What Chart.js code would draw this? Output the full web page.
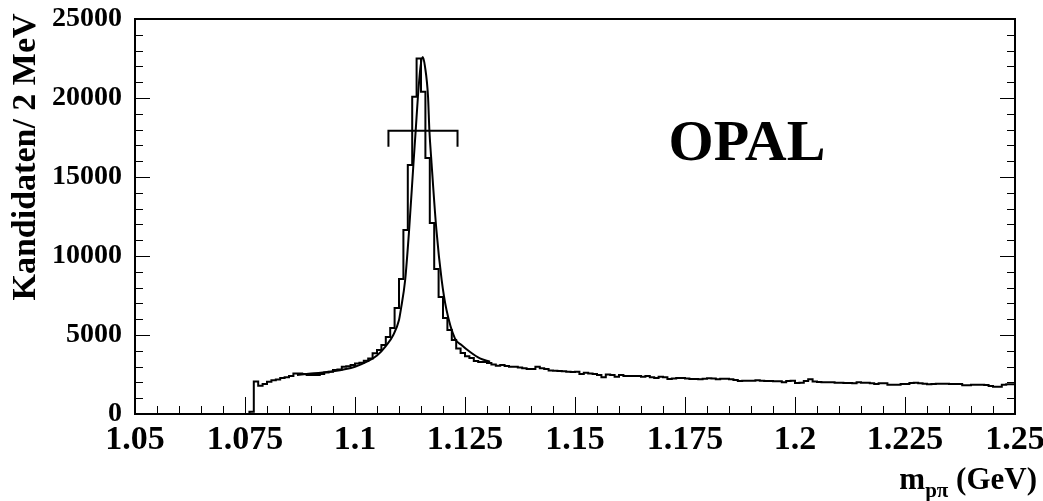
<!DOCTYPE html>
<html><head><meta charset="utf-8">
<style>html,body{margin:0;padding:0;background:#fff;} canvas{display:block;}</style>
<script src="https://cdn.jsdelivr.net/npm/chart.js@4.4.0/dist/chart.umd.min.js"></script>
</head><body>
<canvas id="c" width="1043" height="501"></canvas>
<script>
// Histogram: 1 MeV bins starting at 1.050 GeV
const binStart = 1.05;
const binWidth = 0.001;
const counts = [
  0,0,0,0,0,0,0,0,0,0, 0,0,0,0,0,0,0,0,0,0, 0,0,0,0,0,0,0,150,2050,1790,
  1900,2040,2130,2190,2280,2320,2400,2570,2570,2530, 2470,2470,2470,2530,2620,2680,2780,2820,2990,3020,
  3100,3200,3250,3370,3520,3840,4050,4370,4870,5440, 6710,8540,11650,15760,20080,22500,20400,16200,12090,9180,
  7400,6080,5320,4680,4150,3860,3650,3540,3350,3290, 3290,3230,3140,3060,3100,3040,2990,2990,2950,2890,
  2850,2850,2990,2890,2850,2760,2740,2720,2700,2680, 2660,2680,2530,2610,2570,2530,2470,2320,2500,2470,
  2360,2470,2400,2400,2400,2400,2360,2400,2320,2280, 2360,2320,2215,2250,2280,2280,2250,2215,2215,2200,
  2230,2260,2250,2195,2235,2235,2195,2150,2090,2110, 2110,2110,2130,2110,2090,2090,2070,2070,2005,2090,
  2110,1960,1980,2090,2195,2050,2030,2005,2005,2005, 1980,1980,1960,1960,1940,2005,1980,1980,1940,1900,
  1940,1940,1855,1855,1855,1900,1900,1960,1980,1940, 1920,1880,1900,1920,1920,1920,1900,1900,1900,1815,
  1815,1855,1855,1855,1835,1770,1730,1730,1855,1880
];
// Fit curve
const fitMass  = [1.0868,1.090,1.095,1.100,1.1027,1.105,1.107,1.1087,1.1100,1.1104,1.1114,1.1123,1.1133,1.1138,1.1143,1.1149,1.1154,1.1159,1.1166,1.1169,1.1174,1.1185,1.1197,1.1208,1.1227,1.1242,1.1261,1.1284,1.1307];
const fitValue = [2470,2560,2700,2990,3310,3700,4300,5000,5950,6580,8480,11650,15900,17970,20080,22000,22600,22000,20080,17970,15870,11650,8480,6580,4790,4370,3940,3520,3310];
// Mass window bracket
const windowMass  = [1.1076,1.1076,1.1233,1.1233];
const windowValue = [16920,17930,17930,16920];
// Ticks
const xTickValues = [1.05,1.075,1.1,1.125,1.15,1.175,1.2,1.225,1.25];
const xTickLabels = ['1.05','1.075','1.1','1.125','1.15','1.175','1.2','1.225','1.25'];
const yTickValues = [0,5000,10000,15000,20000,25000];
const yTickLabels = ['0','5000','10000','15000','20000','25000'];
const yTitle = 'Kandidaten/ 2 MeV';
const xTitleMain = 'm', xTitleSub = 'p\u03c0', xTitleUnit = ' (GeV)';
const plotLabel = 'OPAL';

const histPoints = counts.map((c,i)=>({x: binStart + i*binWidth, y: c}));
histPoints.push({x: binStart + counts.length*binWidth, y: counts[counts.length-1]});
const fitPoints = fitMass.map((m,i)=>({x:m, y:fitValue[i]}));
const winPoints = windowMass.map((m,i)=>({x:m, y:windowValue[i]}));

const SERIF = "'Liberation Serif','Times New Roman',serif";

const framePlugin = {
  id: 'frame',
  afterDatasetsDraw(chart) {
    const {ctx, chartArea:{left,right,top,bottom}, scales:{x,y}} = chart;
    ctx.save();
    ctx.strokeStyle = '#000';
    ctx.lineWidth = 1;
    ctx.beginPath();
    for (let i=0;i<=40;i++){
      const v = 1.05 + i*0.005;
      const px = Math.round(x.getPixelForValue(v))+0.5;
      const len = (i%5===0)?17:8;
      ctx.moveTo(px,bottom); ctx.lineTo(px,bottom-len);
    }
    for (let i=0;i<=25;i++){
      const v = i*1000;
      const py = Math.round(y.getPixelForValue(v))+0.5;
      const len = (i%5===0)?15:8;
      ctx.moveTo(left,py); ctx.lineTo(left+len,py);
      ctx.moveTo(right,py); ctx.lineTo(right-len,py);
    }
    ctx.stroke();
    ctx.lineWidth = 2;
    ctx.strokeRect(left,top,right-left,bottom-top);

    ctx.fillStyle = '#000';
    ctx.font = 'bold 58px ' + SERIF;
    ctx.textAlign = 'center';
    ctx.textBaseline = 'alphabetic';
    ctx.fillText(plotLabel, 747, 160);

    ctx.save();
    ctx.translate(35, 157);
    ctx.rotate(-Math.PI/2);
    ctx.font = 'bold 34px ' + SERIF;
    ctx.textAlign = 'center';
    ctx.fillText(yTitle, 0, 0);
    ctx.restore();

    ctx.textAlign = 'left';
    const fMain = 'bold 31px ' + SERIF, fSub = 'bold 21px ' + SERIF;
    ctx.font = fMain; const wm = ctx.measureText(xTitleMain).width; const wu = ctx.measureText(xTitleUnit).width;
    ctx.font = fSub; const ws = ctx.measureText(xTitleSub).width;
    let xs = 1037 - (wm+ws+wu);
    const base = 489;
    ctx.font = fMain; ctx.fillText(xTitleMain, xs, base); xs += wm;
    ctx.font = fSub; ctx.fillText(xTitleSub, xs, base+8); xs += ws;
    ctx.font = fMain; ctx.fillText(xTitleUnit, xs, base);
    ctx.restore();
  }
};

new Chart(document.getElementById('c'), {
  type: 'line',
  data: {
    datasets: [
      {data: histPoints, stepped: 'after', borderColor:'#000', borderWidth:2, pointRadius:0, fill:false},
      {data: fitPoints, borderColor:'#000', borderWidth:2, pointRadius:0, fill:false, cubicInterpolationMode:'monotone'},
      {data: winPoints, borderColor:'#000', borderWidth:2, pointRadius:0, fill:false, tension:0}
    ]
  },
  options: {
    responsive:false, animation:false, devicePixelRatio:1,
    layout:{padding:{top:19,right:28,left:0,bottom:0}},
    plugins:{legend:{display:false}, tooltip:{enabled:false}},
    scales:{
      x:{type:'linear', min:1.05, max:1.25,
         grid:{display:false, drawTicks:false}, border:{display:false},
         ticks:{font:{family:SERIF, weight:'bold', size:34}, color:'#000', padding:6, maxRotation:0, minRotation:0, autoSkip:false,
                callback:(v,i)=>xTickLabels[i]},
         afterBuildTicks: s=>{ s.ticks = xTickValues.map(v=>({value:v})); },
         afterFit: s=>{ s.height = 87; s.paddingLeft = 0; s.paddingRight = 0; }},
      y:{type:'linear', min:0, max:25000,
         grid:{display:false, drawTicks:false}, border:{display:false},
         ticks:{font:{family:SERIF, weight:'bold', size:28}, color:'#000', padding:13, autoSkip:false,
                callback:(v,i)=>yTickLabels[i]},
         afterBuildTicks: s=>{ s.ticks = yTickValues.map(v=>({value:v})); },
         afterFit: s=>{ s.width = 135; s.paddingTop = 0; s.paddingBottom = 0; }}
    }
  },
  plugins:[framePlugin]
});
</script>
</body></html>
